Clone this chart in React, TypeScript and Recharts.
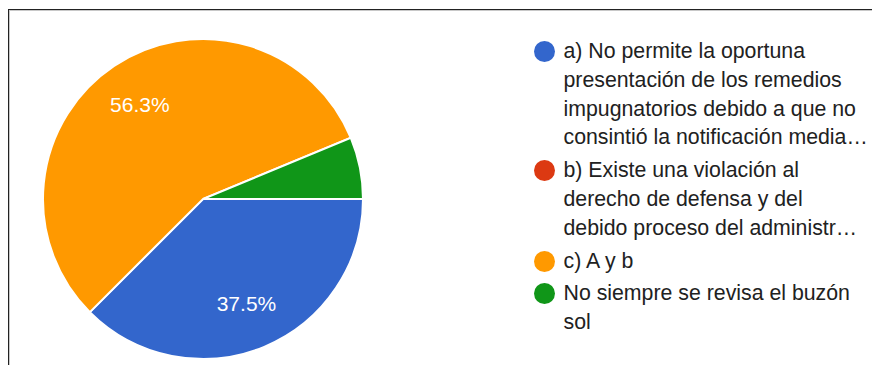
import { PieChart, Pie, Cell, Legend } from 'recharts';

const categories = [
  'a) No permite la oportuna\npresentación de los remedios\nimpugnatorios debido a que no\nconsintió la notificación media…',
  'b) Existe una violación al\nderecho de defensa y del\ndebido proceso del administr…',
  'c) A y b',
  'No siempre se revisa el buzón\nsol',
];

const counts = [6, 0, 9, 1];

const COLORS = [
  '#3366cc', // blue
  '#dc3912', // red
  '#ff9900', // orange
  '#109618', // green
];

const FONT = '"Liberation Sans", Arial, sans-serif';

const chartData = categories.map((name, i) => ({ name, value: counts[i], fill: COLORS[i] }));

const RADIAN = Math.PI / 180;

function renderLabel({ cx, cy, midAngle, outerRadius, percent }: any) {
  if (!percent || percent < 0.1) return null;
  const r = outerRadius * 0.71;
  const x = cx + r * Math.cos(-midAngle * RADIAN);
  const y = cy + r * Math.sin(-midAngle * RADIAN);
  return (
    <text
      x={x}
      y={y}
      fill="#ffffff"
      textAnchor="middle"
      dominantBaseline="central"
      fontSize={21}
      fontFamily={FONT}
    >
      {`${(percent * 100).toFixed(1)}%`}
    </text>
  );
}

function LegendList() {
  return (
    <div style={{ fontFamily: FONT, fontSize: 21.3, lineHeight: '28.8px', color: '#212121' }}>
      {chartData.map((item, i) => (
        <div key={i} style={{ display: 'flex', alignItems: 'flex-start', marginBottom: 4 }}>
          <span
            style={{
              width: 21,
              height: 21,
              borderRadius: '50%',
              background: item.fill,
              marginTop: 4,
              marginRight: 8.5,
              flex: 'none',
            }}
          />
          <span style={{ whiteSpace: 'pre' }}>{item.name}</span>
        </div>
      ))}
    </div>
  );
}

export default function App() {
  return (
    <div style={{ position: 'absolute', left: 0, top: 0, width: 872, height: 365, background: '#fff' }}>
      <div style={{ position: 'absolute', left: 8, top: 9, right: 0, height: 1, background: '#222' }} />
      <div style={{ position: 'absolute', left: 9, top: 10, right: 0, height: 1, background: '#c8c8c8' }} />
      <div style={{ position: 'absolute', left: 8, top: 9, width: 1, bottom: 0, background: '#222' }} />
      <div style={{ position: 'absolute', left: 9, top: 10, width: 1, bottom: 0, background: '#c8c8c8' }} />
      <PieChart width={872} height={365} margin={{ top: 0, right: 0, bottom: 0, left: 0 }}>
        <Pie
          data={chartData}
          dataKey="value"
          nameKey="name"
          cx={203}
          cy={199}
          outerRadius={160}
          startAngle={0}
          endAngle={-360}
          stroke="#ffffff"
          strokeWidth={2}
          labelLine={false}
          label={renderLabel}
          isAnimationActive={false}
        >
          {chartData.map((entry, index) => (
            <Cell key={`cell-${index}`} fill={entry.fill} />
          ))}
        </Pie>
        <Legend
          content={() => <LegendList />}
          wrapperStyle={{ position: 'absolute', left: 534, top: 37, width: 336 }}
        />
      </PieChart>
    </div>
  );
}
